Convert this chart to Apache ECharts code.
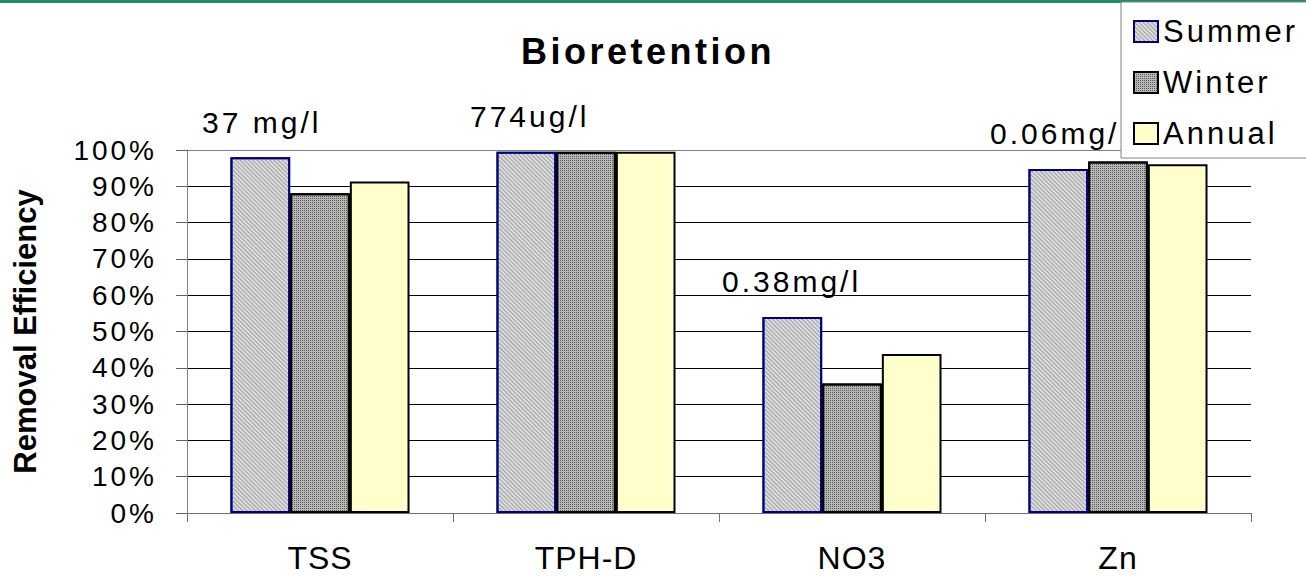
<!DOCTYPE html>
<html><head><meta charset="utf-8">
<script src="https://cdn.jsdelivr.net/npm/echarts@6/dist/echarts.min.js"></script>
<style>html,body{margin:0;padding:0;background:#fff}#c{width:1306px;height:576px}</style>
</head><body><div id="c"></div>
<script>
// ---- data ----
const categories = ['TSS', 'TPH-D', 'NO3', 'Zn'];
const seriesNames = ['Summer', 'Winter', 'Annual'];
const summer = [0.980, 0.995, 0.540, 0.948];
const winter = [0.881, 0.995, 0.357, 0.968];
const annual = [0.913, 0.995, 0.438, 0.961];
const concLabels = ['37 mg/l', '774ug/l', '0.38mg/l', '0.06mg/l'];
const titleText = 'Bioretention';
const yName = 'Removal Efficiency';

const FONT = "'Liberation Sans', Arial, sans-serif";
const chart = echarts.init(document.getElementById('c'), null, {renderer: 'svg'});

const concPos = [[202, 122], [470, 116], [722, 281], [990, 133]];

const option = {
  animation: false,
  backgroundColor: '#fff',
  title: {
    text: titleText, left: 643, top: 28, textAlign: 'center',
    textStyle: {fontFamily: FONT, fontSize: 36, fontWeight: 'bold', color: '#000'}
  },
  legend: {
    orient: 'vertical', left: 1121, top: 2, icon: 'rect',
    padding: [14, 60, 9, 12], itemGap: 20, itemWidth: 24, itemHeight: 21,
    backgroundColor: '#fff', borderColor: '#808080', borderWidth: 1,
    textStyle: {fontFamily: FONT, fontSize: 31, color: '#000'},
    data: seriesNames, z: 10
  },
  grid: {left: 187, right: 55, top: 150, bottom: 63, containLabel: false},
  xAxis: [{
    type: 'category', data: categories, position: 'bottom',
    axisLine: {lineStyle: {color: '#707070', width: 1}},
    axisTick: {show: true, length: 9, lineStyle: {color: '#707070'}},
    axisLabel: {fontFamily: FONT, fontSize: 32, color: '#000', margin: 29}
  }, {
    type: 'category', data: categories, position: 'top',
    axisLine: {lineStyle: {color: '#808080', width: 1}},
    axisTick: {show: false}, axisLabel: {show: false}
  }],
  yAxis: {
    type: 'value', min: 0, max: 1, interval: 0.1,
    name: yName, nameLocation: 'middle', nameGap: 146,
    nameTextStyle: {fontFamily: FONT, fontSize: 31, fontWeight: 'bold', color: '#000'},
    axisLine: {show: true, lineStyle: {color: '#808080'}},
    axisTick: {show: true, length: 11, lineStyle: {color: '#606060'}},
    axisLabel: {fontFamily: FONT, fontSize: 28, color: '#000', margin: 30,
      formatter: v => Math.round(v * 100) + '%'},
    splitLine: {show: true, showMinLine: false, showMaxLine: false, lineStyle: {color: '#000', width: 1}}
  },
  graphic: [
    {type: 'rect', shape: {x: 0, y: 0, width: 1306, height: 3}, style: {fill: '#1d8f5e'}, z: 0},
  ].concat(concLabels.map((t, i) => ({
    type: 'text', left: concPos[i][0], top: concPos[i][1] - 15, z: 0,
    style: {text: t, fontFamily: FONT, fontSize: 30, fill: '#000'}
  }))),
  series: [
    {
      name: seriesNames[0], type: 'bar', data: summer, barGap: '0%', barCategoryGap: '32.7%',
      itemStyle: {color: '#dcdcdc', borderColor: '#000080', borderWidth: 2,
        decal: {symbol: 'rect', symbolSize: 1, color: '#a0a0a0', dashArrayX: [1, 0], dashArrayY: [1, 2], rotation: Math.PI / 4}}
    },
    {
      name: seriesNames[1], type: 'bar', data: winter, barGap: '0%', barCategoryGap: '32.7%',
      itemStyle: {color: '#b8b8b8', borderColor: '#000', borderWidth: 2,
        decal: {symbol: 'rect', symbolSize: 1, color: '#5a5a5a', dashArrayX: [1, 1], dashArrayY: [1, 1], rotation: 0}}
    },
    {
      name: seriesNames[2], type: 'bar', data: annual, barGap: '0%', barCategoryGap: '32.7%',
      itemStyle: {color: '#ffffcc', borderColor: '#000', borderWidth: 2}
    }
  ]
};
chart.setOption(option);

function applySpacing() {
  document.querySelectorAll('#c svg text').forEach(t => {
    const s = t.textContent;
    let ls = 0;
    if (/%$/.test(s)) ls = 3;
    else if (categories.includes(s)) ls = 1;
    else if (seriesNames.includes(s)) ls = 3;
    else if (concLabels.includes(s)) ls = 3;
    else if (s === titleText) ls = 3.5;
    if (ls) t.setAttribute('letter-spacing', ls + 'px');
  });
}
chart.getZr().flush();
applySpacing();
chart.on('rendered', applySpacing);
setTimeout(applySpacing, 50);
</script></body></html>
